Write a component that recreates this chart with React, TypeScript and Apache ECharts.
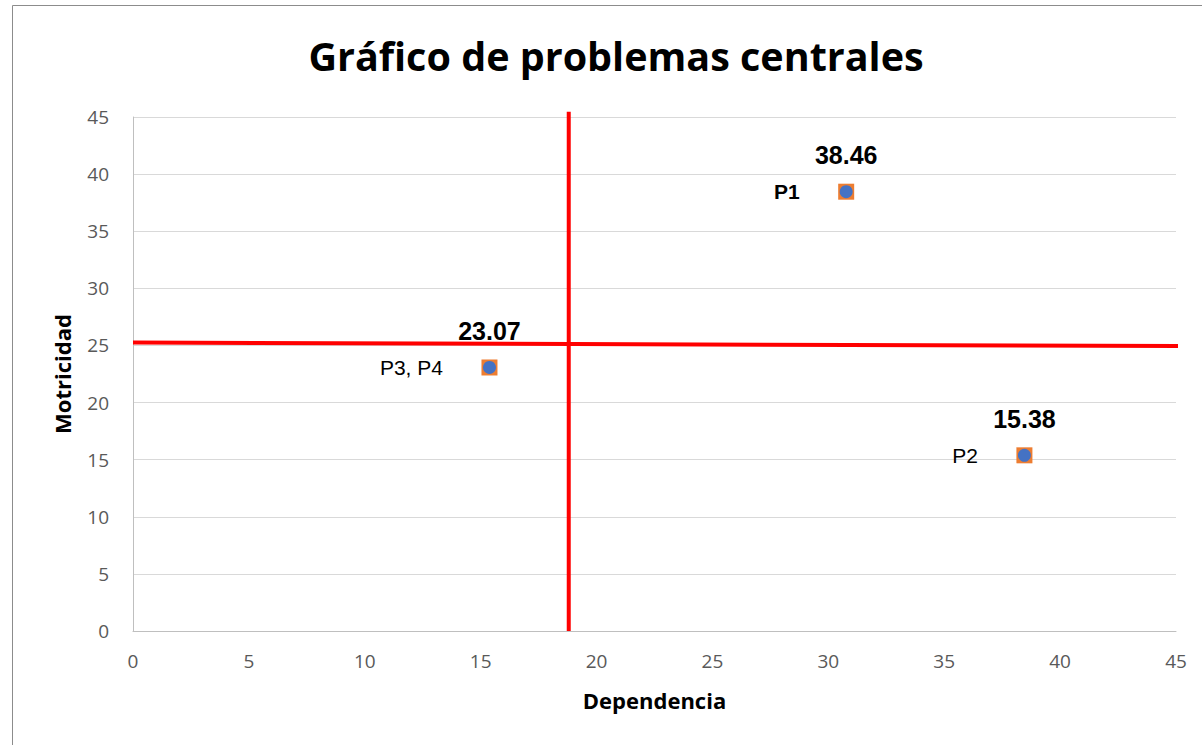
import React, { useEffect, useRef } from "react";
import * as echarts from "echarts";

const names = ["P1", "P2", "P3, P4"];
const dependencia = [30.77, 38.46, 15.38];
const motricidad = [38.46, 15.38, 23.07];
const valueLabels = ["38.46", "15.38", "23.07"];
const xTicks = [0, 5, 10, 15, 20, 25, 30, 35, 40, 45];
const verticalLine = [[18.8, 0], [18.8, 45.45]];
const horizontalLine = [[0, 25.25], [45.1, 24.95]];

export default function App() {
  const ref = useRef<HTMLDivElement>(null);
  useEffect(() => {
    if (!ref.current) return;
    const chart = echarts.init(ref.current, null, { renderer: "svg" });
    const pts = dependencia.map((x, i) => [x, motricidad[i]]);
    chart.setOption({
      animation: false,
      backgroundColor: "#fff",
      title: {
        text: "Gráfico de problemas centrales",
        left: 611,
        top: 31,
        textAlign: "center",
        textStyle: { fontFamily: "Open Sans", fontWeight: "bold", fontSize: 39.5, color: "#000" },
      },
      graphic: [
        {
          type: "rect",
          shape: { x: 12.5, y: 5.5, width: 1300, height: 800 },
          style: { fill: "none", stroke: "#8c8c8c", lineWidth: 1 },
          silent: true,
        },
      ],
      grid: { left: 133, right: 26, top: 117, bottom: 114 },
      xAxis: {
        type: "value",
        min: 0,
        max: 45,
        interval: 5,
        name: "Dependencia",
        nameLocation: "middle",
        nameGap: 58,
        nameTextStyle: { fontFamily: "Open Sans", fontWeight: "bold", fontSize: 22, color: "#000" },
        axisLine: { show: true, lineStyle: { color: "#bfbfbf" } },
        axisTick: { show: false },
        splitLine: { show: false },
        axisLabel: {
          fontFamily: "Open Sans",
          fontSize: 19,
          color: "#595959",
          margin: 20,
          formatter: (v: number) => (xTicks.includes(v) ? String(v) : ""),
        },
      },
      yAxis: {
        type: "value",
        min: 0,
        max: 45,
        interval: 5,
        name: "Motricidad",
        nameLocation: "middle",
        nameGap: 60,
        nameTextStyle: { fontFamily: "Open Sans", fontWeight: "bold", fontSize: 22, color: "#000" },
        axisLine: { show: true, lineStyle: { color: "#bfbfbf" } },
        axisTick: { show: false },
        splitLine: { show: true, lineStyle: { color: "#d9d9d9" } },
        axisLabel: { fontFamily: "Open Sans", fontSize: 19, color: "#595959", margin: 24 },
      },
      series: [
        {
          type: "line",
          data: verticalLine,
          symbol: "none",
          clip: false,
          lineStyle: { color: "#ff0000", width: 4 },
          z: 3,
        },
        {
          type: "line",
          data: horizontalLine,
          symbol: "none",
          clip: false,
          lineStyle: { color: "#ff0000", width: 4 },
          z: 3,
        },
        {
          type: "scatter",
          symbol: "rect",
          symbolSize: 16,
          itemStyle: { color: "#ED7D31", opacity: 1 },
          data: pts,
          z: 4,
          label: {
            show: true,
            position: "top",
            distance: 16,
            formatter: (p: any) => valueLabels[p.dataIndex],
            fontFamily: "Liberation Sans",
            fontWeight: "bold",
            fontSize: 25,
            color: "#000",
            opacity: 1,
            textBorderWidth: 0,
          },
        },
        {
          type: "scatter",
          symbol: "circle",
          symbolSize: 13,
          itemStyle: { color: "#4472C4", opacity: 1 },
          z: 5,
          data: pts.map((p, i) => ({
            value: p,
            name: names[i],
            label: i === 0 ? { fontWeight: "bold" } : {},
          })),
          label: {
            show: true,
            position: "left",
            distance: 40,
            formatter: (p: any) => p.name,
            fontFamily: "Liberation Sans",
            fontSize: 21,
            color: "#000",
            opacity: 1,
            textBorderWidth: 0,
          },
        },
      ],
    });
    return () => chart.dispose();
  }, []);
  return (
    <div
      ref={ref}
      style={{ position: "fixed", left: 0, top: 0, width: 1202, height: 745 }}
    />
  );
}
